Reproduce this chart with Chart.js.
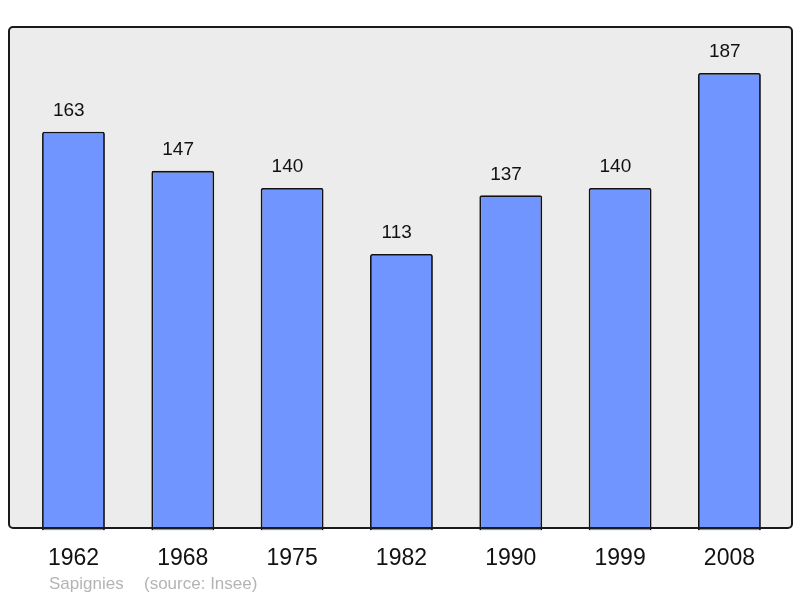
<!DOCTYPE html>
<html>
<head>
<meta charset="utf-8">
<script src="https://cdn.jsdelivr.net/npm/chart.js@4.4.0/dist/chart.umd.min.js"></script>
<style>
  html, body { margin: 0; padding: 0; background: #fff; }
  #wrap { width: 800px; height: 598px; }
</style>
</head>
<body>
<div id="wrap"><canvas id="chart" width="800" height="598"></canvas></div>
<script>
const years = ["1962", "1968", "1975", "1982", "1990", "1999", "2008"];
const population = [163, 147, 140, 113, 137, 140, 187];
const placeName = "Sapignies";
const sourceNote = "(source: Insee)";

// grey framed plot background behind the bars
const framePlugin = {
  id: "frame",
  beforeDatasetsDraw(chart) {
    const ctx = chart.ctx;
    ctx.save();
    ctx.beginPath();
    ctx.roundRect(9, 27, 783, 501, 4);
    ctx.fillStyle = "#ececec";
    ctx.fill();
    ctx.restore();
  },
  afterDatasetsDraw(chart) {
    const ctx = chart.ctx;
    ctx.save();
    ctx.beginPath();
    ctx.roundRect(9, 27, 783, 501, 4);
    ctx.lineWidth = 2;
    ctx.strokeStyle = "#1a1a1a";
    ctx.stroke();

    // values above each bar (slightly left of centre, as in the original)
    const meta = chart.getDatasetMeta(0);
    ctx.font = "19px 'Liberation Sans', Arial, sans-serif";
    ctx.fillStyle = "#111";
    ctx.textAlign = "center";
    ctx.textBaseline = "middle";
    meta.data.forEach((bar, i) => {
      ctx.fillText(String(population[i]), bar.x - 4.7, bar.y - 21);
    });

    // footer
    ctx.font = "17px 'Liberation Sans', Arial, sans-serif";
    ctx.fillStyle = "#b4b4b4";
    ctx.textAlign = "left";
    ctx.fillText(placeName, 49, 584);
    ctx.fillText(sourceNote, 144, 584);
    ctx.restore();
  }
};

new Chart(document.getElementById("chart").getContext("2d"), {
  type: "bar",
  data: {
    labels: years,
    datasets: [{
      data: population,
      backgroundColor: "#7095ff",
      borderColor: "#111",
      borderWidth: 1.8,
      borderRadius: 2,
      borderSkipped: "bottom",
      categoryPercentage: 1,
      barPercentage: 0.575
    }]
  },
  options: {
    responsive: false,
    animation: false,
    layout: { padding: { left: 18.8, right: 15.9, top: 27, bottom: 12 } },
    plugins: { legend: { display: false }, tooltip: { enabled: false } },
    scales: {
      x: {
        grid: { display: false, drawTicks: false },
        border: { display: false },
        ticks: {
          color: "#111",
          padding: 14,
          font: { family: "'Liberation Sans', Arial, sans-serif", size: 23 }
        }
      },
      y: {
        display: false,
        min: 0,
        max: 205.8
      }
    }
  },
  plugins: [framePlugin]
});
</script>
</body>
</html>
